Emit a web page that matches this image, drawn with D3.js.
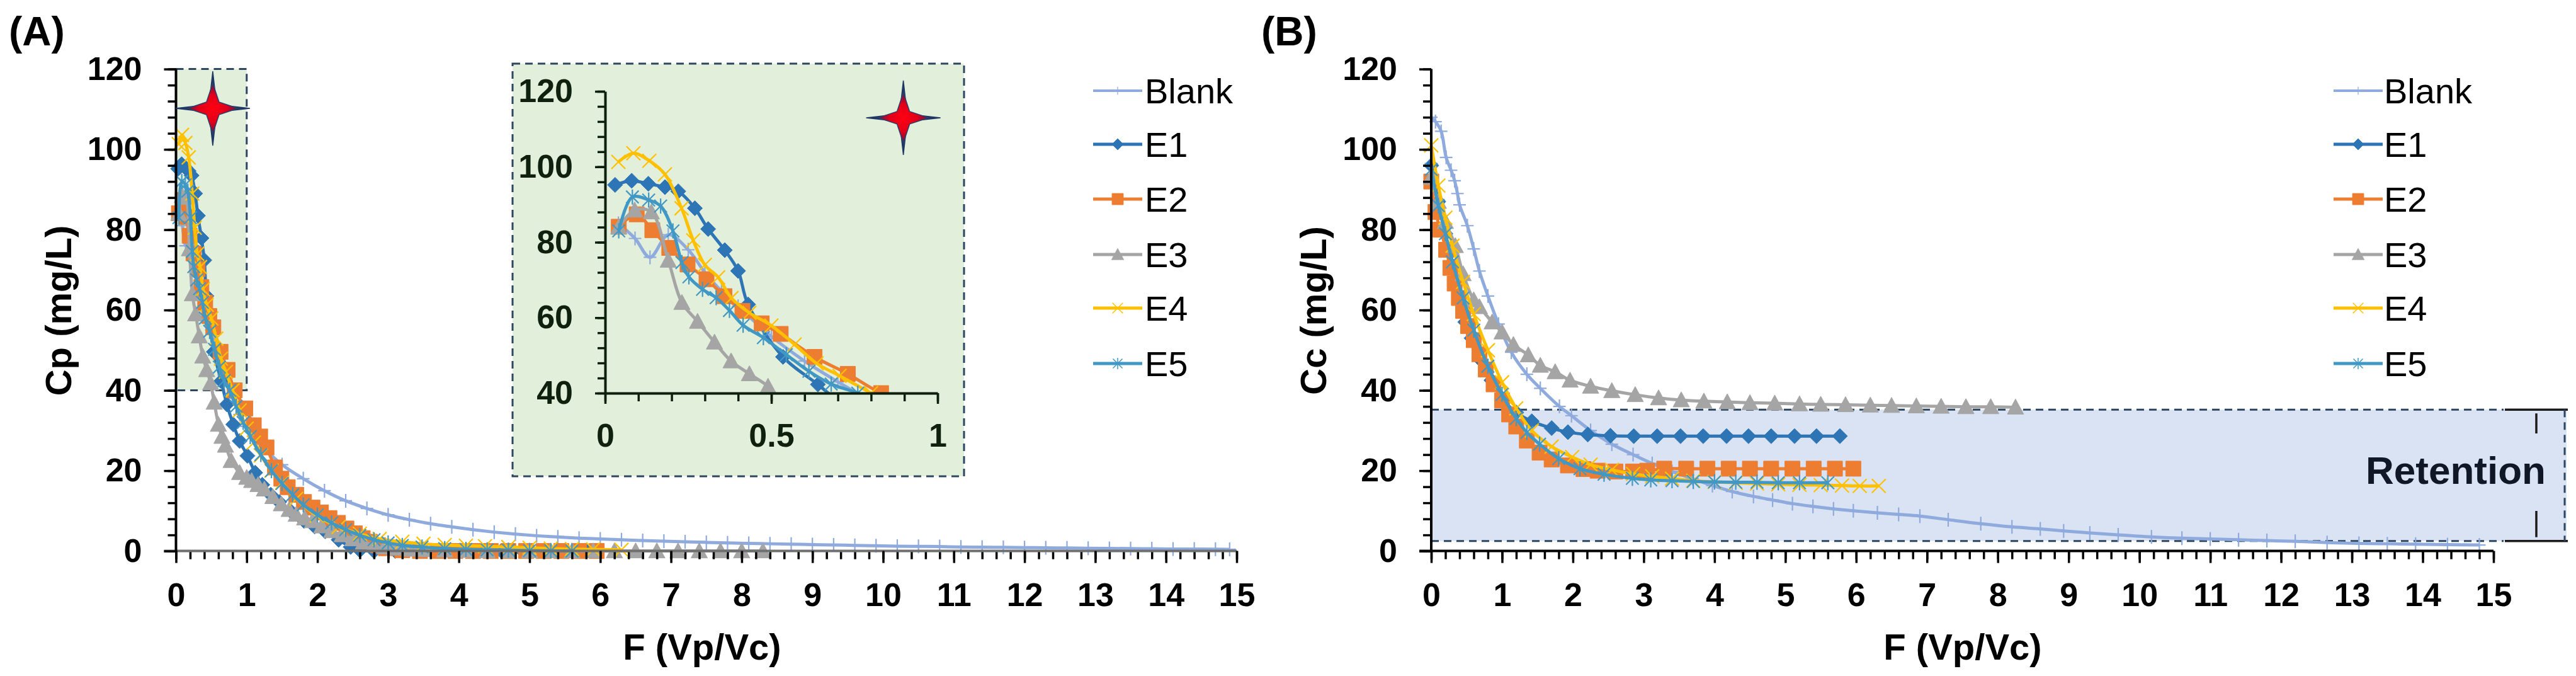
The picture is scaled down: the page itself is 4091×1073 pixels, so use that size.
<!DOCTYPE html>
<html><head><meta charset="utf-8">
<script src="https://cdn.jsdelivr.net/npm/d3@7"></script>
<style>
html,body{margin:0;padding:0;background:#fff;}
svg{display:block;font-family:"Liberation Sans",Arial,sans-serif;}
</style></head>
<body>
<svg id="chart" width="4091" height="1073"></svg>
<script>
// ---------------- DATA ----------------
const seriesNames = ["Blank","E1","E2","E3","E4","E5"];
const xTickLabels = [0,1,2,3,4,5,6,7,8,9,10,11,12,13,14,15];
const yTickLabels = [0,20,40,60,80,100,120];
const insetXTickLabels = [0,0.5,1];
const insetYTickLabels = [40,60,80,100,120];
const insetDomainX = [0,1];
const insetDomainY = [40,120];
const retentionRange = [2.5,35.2];

// Panel A : Cp (mg/L) vs F
const A_Blank = [[0.04,85],[0.09,81],[0.135,76],[0.19,82],[0.25,78],[0.3,72],[0.35,67],[0.4,63],[0.5,55],[0.6,48.5],[0.7,43],[0.8,38],[0.9,34],[1.0,31],[1.2,26.5],[1.5,21.5],[1.8,18],[2.1,15],[2.4,12.5],[2.7,10.6],[3.0,9.0],[3.3,7.8],[3.6,6.8],[3.9,6.0],[4.2,5.3],[4.5,4.7],[4.8,4.2],[5.1,3.8],[5.4,3.5],[5.7,3.2],[6.0,3.0],[6.3,2.8],[6.6,2.6],[6.9,2.45],[7.2,2.3],[7.5,2.15],[7.8,2.0],[8.1,1.9],[8.4,1.8],[8.7,1.7],[9.0,1.6],[9.3,1.5],[9.6,1.4],[9.9,1.3],[10.2,1.2],[10.5,1.15],[10.8,1.1],[11.1,1.0],[11.4,0.95],[11.7,0.9],[12.0,0.85],[12.3,0.8],[12.6,0.75],[12.9,0.7],[13.2,0.65],[13.5,0.6],[13.8,0.55],[14.1,0.5],[14.4,0.48],[14.7,0.45],[14.9,0.42]];
const A_E1 = [[0.03,95.2],[0.08,96.3],[0.13,95.5],[0.18,94.6],[0.22,93.5],[0.27,89],[0.31,83.5],[0.36,77.9],[0.40,72.4],[0.43,63.5],[0.535,49.6],[0.64,42.3],[0.72,36.5],[0.81,31.5],[0.9,27.4],[1.01,23.7],[1.12,19.5],[1.22,16.5],[1.34,14],[1.46,12.2],[1.63,9.8],[1.81,7.5],[1.96,6.1],[2.11,4.9],[2.3,2.8],[2.47,1.0],[2.6,0.2],[2.8,0],[3.1,0],[3.4,0],[3.7,0],[4.0,0],[4.3,0],[4.6,0],[4.9,0],[5.2,0],[5.5,0],[5.8,0]];
const A_E2 = [[0.041,84.1],[0.095,87.4],[0.142,83.2],[0.193,78.5],[0.248,74.1],[0.305,70.2],[0.359,65.7],[0.413,61.8],[0.471,58.5],[0.528,55.7],[0.63,49.6],[0.73,45.1],[0.83,40],[0.98,35.5],[1.10,31.3],[1.19,28.5],[1.28,25.8],[1.40,20.8],[1.49,18],[1.58,15.9],[1.7,14],[1.81,12.2],[1.93,10.8],[2.05,9.6],[2.17,8.2],[2.29,7.0],[2.41,5.6],[2.53,4.4],[2.64,3.2],[2.74,2.3],[2.86,1.4],[2.97,0.7],[3.2,0.2],[3.45,0],[3.7,0],[3.95,0],[4.2,0],[4.45,0],[4.7,0],[4.95,0],[5.2,0],[5.45,0],[5.7,0],[5.95,0]];
const A_E3 = [[0.041,84],[0.089,88.5],[0.139,88],[0.19,75.2],[0.231,64],[0.278,59],[0.329,53.5],[0.379,48.5],[0.434,45.1],[0.49,41.8],[0.54,37],[0.6,31.5],[0.65,28.5],[0.7,26.3],[0.78,22.5],[0.9,19.5],[1.0,18.3],[1.07,17.5],[1.16,16.5],[1.25,15.4],[1.37,13.5],[1.49,11.7],[1.6,10.3],[1.7,9.1],[1.82,8.2],[1.93,7.5],[2.06,6.2],[2.2,5],[2.35,4],[2.5,3],[2.65,2.2],[2.8,1.5],[2.95,1],[3.1,0.7],[3.3,0.4],[3.5,0.3],[3.8,0.2],[4.1,0.1],[4.4,0],[4.7,0],[5.0,0],[5.3,0],[5.6,0],[5.9,0],[6.2,0],[6.5,0],[6.8,0],[7.1,0],[7.4,0],[7.7,0],[8.0,0],[8.3,0]];
const A_E4 = [[0.04,101.3],[0.085,103.6],[0.133,101.6],[0.18,98],[0.23,89],[0.265,80.5],[0.3,74],[0.34,70.7],[0.38,65.2],[0.434,61.3],[0.5,57.9],[0.57,52.9],[0.636,47.9],[0.705,44.6],[0.8,40],[0.9,35],[1.0,30.5],[1.1,27],[1.2,23.8],[1.35,20],[1.5,17],[1.7,13],[1.99,8.8],[2.3,6],[2.6,4.3],[2.88,3.0],[3.2,2.3],[3.5,1.8],[3.8,1.5],[4.1,1.3],[4.37,1.2],[4.7,1.0],[5.0,0.8],[5.3,0.6],[5.6,0.5],[5.9,0.4],[6.3,0.3]];
const A_E5 = [[0.041,83],[0.082,92],[0.131,91.2],[0.167,89.6],[0.204,83],[0.231,74.6],[0.252,70.8],[0.293,67.5],[0.334,65.3],[0.374,61.9],[0.415,58],[0.476,54.7],[0.545,50.2],[0.613,45.8],[0.68,42.4],[0.76,40],[0.85,36],[0.95,32],[1.05,28.5],[1.2,24],[1.35,20],[1.5,16.8],[1.65,14],[1.8,11.5],[2.0,9],[2.2,7],[2.4,5.3],[2.6,3.9],[2.8,2.8],[3.0,2.0],[3.2,1.4],[3.48,1.0],[3.8,0.6],[4.1,0.4],[4.4,0.3],[4.7,0.2],[5.0,0.1],[5.3,0.05],[5.6,0]];

// Panel B : Cc (mg/L) vs F
const B_Blank = [[0,108],[0.06,106.9],[0.14,104.5],[0.21,98],[0.28,94.8],[0.33,92.2],[0.37,89],[0.4,86.2],[0.51,81],[0.6,75.2],[0.68,69.7],[0.8,63.5],[0.95,56.5],[1.13,49.5],[1.35,44],[1.54,40.5],[1.81,36],[1.98,33.7],[2.25,30],[2.55,26.6],[2.85,24],[3.12,21.8],[3.4,19.8],[3.69,18],[3.97,16.3],[4.25,14.8],[4.55,13.6],[4.82,12.7],[5.1,11.8],[5.39,11.1],[5.68,10.5],[5.96,10],[6.3,9.5],[6.6,9.1],[6.9,8.7],[7.3,7.8],[7.76,6.8],[8.2,6.0],[8.6,5.5],[8.93,5.0],[9.3,4.5],[9.7,4.0],[10.17,3.5],[10.6,3.2],[11.0,3.0],[11.4,2.8],[11.8,2.6],[12.2,2.4],[12.65,2.1],[13.1,1.9],[13.5,1.8],[13.9,1.7],[14.35,1.6],[14.8,1.5]];
const B_E1 = [[0,96],[0.1,87],[0.2,79],[0.3,71],[0.4,62],[0.48,57],[0.57,53],[0.7,47.5],[0.85,42.5],[1.0,38],[1.2,34.5],[1.42,32.3],[1.7,30.6],[1.93,29.6],[2.21,29],[2.53,28.7],[2.86,28.6],[3.19,28.6],[3.52,28.6],[3.84,28.6],[4.17,28.6],[4.48,28.6],[4.80,28.6],[5.13,28.6],[5.44,28.6],[5.77,28.6]];
const B_E2 = [[0,92],[0.06,84.4],[0.13,80],[0.21,75],[0.27,70.5],[0.33,66.6],[0.39,63],[0.45,59.8],[0.52,56],[0.6,52.5],[0.68,49],[0.77,45.2],[0.88,41.5],[1.0,37.5],[1.1,34],[1.2,31],[1.35,27.5],[1.53,24.5],[1.7,22.8],[1.93,21.3],[2.15,20.4],[2.35,20],[2.6,19.8],[2.85,19.8],[3.05,20.0],[3.29,20.5],[3.6,20.5],[3.9,20.5],[4.2,20.5],[4.5,20.5],[4.8,20.5],[5.1,20.5],[5.4,20.5],[5.7,20.5],[5.96,20.5]];
const B_E3 = [[0,93],[0.1,87],[0.2,82],[0.34,76],[0.45,69],[0.6,62.5],[0.68,60.8],[0.86,57],[1.0,54.5],[1.16,51.4],[1.37,48.8],[1.54,46.2],[1.75,44.6],[1.96,42.5],[2.25,41],[2.55,39.9],[2.88,38.9],[3.21,38.1],[3.53,37.6],[3.85,37.3],[4.18,37.1],[4.5,36.9],[4.85,36.8],[5.2,36.6],[5.5,36.5],[5.85,36.4],[6.2,36.3],[6.5,36.2],[6.85,36.1],[7.2,36.0],[7.55,35.9],[7.9,35.9],[8.25,35.8]];
const B_E4 = [[0,101],[0.1,91],[0.2,83],[0.3,76],[0.45,67],[0.6,59],[0.8,50],[1.0,42],[1.2,35.5],[1.42,30],[1.7,26],[1.99,23.4],[2.25,21.5],[2.55,20.2],[2.85,19.2],[3.12,18.6],[3.4,18],[3.7,17.5],[4.0,17.2],[4.3,17],[4.6,16.8],[4.9,16.6],[5.2,16.5],[5.5,16.4],[5.8,16.3],[6.05,16.2],[6.32,16.2]];
const B_E5 = [[0,95],[0.1,86],[0.2,79],[0.3,72],[0.45,63],[0.6,55],[0.8,46],[1.0,39],[1.2,33],[1.35,29.5],[1.53,26.6],[1.8,23],[2.1,20.5],[2.44,19.1],[2.84,18.1],[3.1,17.7],[3.4,17.5],[3.7,17.3],[4.0,17.2],[4.3,17.1],[4.6,17.1],[4.9,17.0],[5.2,17.0],[5.6,17.0]];

// ---------------- STYLE ----------------
const colors = {Blank:"#8faadc",E1:"#2e75b6",E2:"#ed7d31",E3:"#a5a5a5",E4:"#ffc000",E5:"#4198c4"};
const markers = {Blank:"plus",E1:"diamond",E2:"square",E3:"triangle",E4:"x",E5:"star"};
const FONT = '"Liberation Sans", Arial, sans-serif';

const svg = d3.select("#chart");
const defs = svg.append("defs");
const grad = defs.append("radialGradient").attr("id","starGrad");
grad.append("stop").attr("offset","0%").attr("stop-color","#ff0010");
grad.append("stop").attr("offset","55%").attr("stop-color","#e0001a");
grad.append("stop").attr("offset","85%").attr("stop-color","#8a1038");
grad.append("stop").attr("offset","100%").attr("stop-color","#1f3864");

function markerPath(t){
  switch(t){
    case "diamond": return "M0,-12L12,0L0,12L-12,0Z";
    case "square": return "M-12,-12H12V12H-12Z";
    case "triangle": return "M0,-13L13,11H-13Z";
    case "x": return "M-11,-11L11,11M-11,11L11,-11";
    case "star": return "M-10,-10L10,10M-10,10L10,-10M0,-12V12";
    case "plus": return "M-10,0H10M0,-11V11";
  }
}
function isStroke(t){return t==="x"||t==="star"||t==="plus";}

function drawSeries(g, name, data, x, y){
  const c = colors[name];
  g.append("path").datum(data)
    .attr("d", d3.line().x(d=>x(d[0])).y(d=>y(d[1])).curve(d3.curveCatmullRom.alpha(0.5)))
    .attr("fill","none").attr("stroke",c).attr("stroke-width",5).attr("stroke-linejoin","round");
  const t = markers[name];
  g.append("g").selectAll("path").data(data).join("path")
    .attr("transform",d=>`translate(${x(d[0])},${y(d[1])})`)
    .attr("d",markerPath(t))
    .attr("fill",isStroke(t)?"none":c)
    .attr("stroke",c).attr("stroke-width",isStroke(t)?2.2:1);
}

function starPath(R,r){
  return `M0,${-R}L${r},${-r}L${R},0L${r},${r}L0,${R}L${-r},${r}L${-R},0L${-r},${-r}Z`;
}
function drawStar(cx,cy){
  const g = svg.append("g").attr("transform",`translate(${cx},${cy})`);
  g.append("path").attr("d",starPath(59,6)).attr("fill","#1f3864").attr("stroke","#1f3864").attr("stroke-width",1.5);
  g.append("path").attr("d",starPath(40,10)).attr("fill","url(#starGrad)").attr("stroke","#2a3f6a").attr("stroke-width",1.5);
}

function styleAxis(g, color){
  g.selectAll(".domain").attr("stroke",color).attr("stroke-width",4);
  g.selectAll(".tick line").attr("stroke","#000").attr("stroke-width",3.5);
  g.selectAll("text").attr("font-family",FONT).attr("font-weight","bold").attr("font-size",52).attr("fill","#000");
}

function drawAxes(x, y, xTitle, yTitle, yTitleX, xTitleX, xDomainColor){
  const x0 = x.range()[0], y0 = y.range()[0];
  const gxm = svg.append("g").attr("transform",`translate(0,${y0})`)
    .call(d3.axisBottom(x).tickValues(d3.range(0,15.001,0.2)).tickSize(13).tickFormat(""));
  gxm.select(".domain").remove();
  const gym = svg.append("g").attr("transform",`translate(${x0},0)`)
    .call(d3.axisLeft(y).tickValues(d3.range(0,120.001,4)).tickSize(13).tickFormat(""));
  gym.select(".domain").remove();
  styleAxis(gxm,"#000"); styleAxis(gym,"#000");
  const gx = svg.append("g").attr("transform",`translate(0,${y0})`)
    .call(d3.axisBottom(x).tickValues(xTickLabels).tickSize(19).tickPadding(31).tickSizeOuter(0).tickFormat(d3.format("d")));
  styleAxis(gx, xDomainColor);
  gx.select(".domain").attr("d",`M${x0-19},0H${x.range()[1]}`);
  const gy = svg.append("g").attr("transform",`translate(${x0},0)`)
    .call(d3.axisLeft(y).tickValues(yTickLabels).tickSize(19).tickPadding(35).tickSizeOuter(0));
  styleAxis(gy,"#000");
  gy.select(".domain").attr("d",`M0,${y0+2}V${y.range()[1]}`);
  svg.append("text").attr("x",xTitleX).attr("y",1047).attr("text-anchor","middle")
    .attr("font-family",FONT).attr("font-weight","bold").attr("font-size",58).text(xTitle);
  svg.append("text").attr("transform",`translate(${yTitleX},493) rotate(-90)`).attr("text-anchor","middle")
    .attr("dy","0.36em").attr("font-family",FONT).attr("font-weight","bold").attr("font-size",58).text(yTitle);
}

function drawLegend(lx, tx){
  const rows = [144,229,316,404,489,577];
  seriesNames.forEach((n,i)=>{
    const yy = rows[i];
    const c = colors[n];
    svg.append("line").attr("x1",lx).attr("x2",lx+78).attr("y1",yy).attr("y2",yy)
      .attr("stroke",c).attr("stroke-width",n==="Blank"?4:5);
    const t = markers[n];
    svg.append("path").attr("d",markerPath(t)).attr("transform",`translate(${lx+39},${yy}) scale(${n==="Blank"?0.6:0.75})`)
      .attr("fill",isStroke(t)?"none":c).attr("stroke",c).attr("stroke-width",isStroke(t)?2:1);
    svg.append("text").attr("x",tx).attr("y",yy).attr("dy","0.36em")
      .attr("font-family",FONT).attr("font-size",56).attr("fill","#000").text(n);
  });
}

// ---------------- PANEL A ----------------
const xA = d3.scaleLinear().domain([0,15]).range([279.5,1964]);
const yA = d3.scaleLinear().domain([0,120]).range([874.6,109.6]);

svg.append("rect").attr("x",xA(insetDomainX[0])).attr("y",yA(insetDomainY[1]))
  .attr("width",xA(insetDomainX[1])-xA(insetDomainX[0])).attr("height",yA(insetDomainY[0])-yA(insetDomainY[1]))
  .attr("fill","#e2efda").attr("stroke","#2d4660").attr("stroke-width",3).attr("stroke-dasharray","12,8");

const gA = svg.append("g");
const seriesA = {Blank:A_Blank,E1:A_E1,E2:A_E2,E3:A_E3,E4:A_E4,E5:A_E5};
seriesNames.forEach(n=>drawSeries(gA,n,seriesA[n],xA,yA));
drawAxes(xA,yA,"F (Vp/Vc)","Cp (mg/L)",92,1115,"#6f6f6f");
drawStar(xA(0.52),yA(110.2));

// inset
const ins = {x0:814,x1:1531,y0:101,y1:756};
svg.append("rect").attr("x",ins.x0).attr("y",ins.y0).attr("width",ins.x1-ins.x0).attr("height",ins.y1-ins.y0)
  .attr("fill","#e2efda").attr("stroke","#2d4660").attr("stroke-width",3).attr("stroke-dasharray","12,8");
const xI = d3.scaleLinear().domain(insetDomainX).range([961,1489]);
const yI = d3.scaleLinear().domain(insetDomainY).range([624,145]);
defs.append("clipPath").attr("id","insetClip").append("rect")
  .attr("x",xI(0)).attr("y",yI(120)-15).attr("width",xI(1)-xI(0)+10).attr("height",yI(40)-yI(120)+15);
const gI = svg.append("g").attr("clip-path","url(#insetClip)");
seriesNames.forEach(n=>drawSeries(gI,n,seriesA[n],xI,yI));
{
  const gxm = svg.append("g").attr("transform",`translate(0,${yI(40)})`)
    .call(d3.axisBottom(xI).tickValues(d3.range(0,1.0001,0.1)).tickSize(13).tickFormat(""));
  gxm.select(".domain").remove();
  const gym = svg.append("g").attr("transform",`translate(${xI(0)},0)`)
    .call(d3.axisLeft(yI).tickValues(d3.range(40,120.001,4)).tickSize(12).tickFormat(""));
  gym.select(".domain").remove();
  [gxm,gym].forEach(g=>{g.selectAll(".tick line").attr("stroke","#0c1f0c").attr("stroke-width",3.5);});
  const gx = svg.append("g").attr("transform",`translate(0,${yI(40)})`)
    .call(d3.axisBottom(xI).tickValues(insetXTickLabels).tickSize(17).tickPadding(31).tickSizeOuter(0).tickFormat(d=>d===0.5?"0.5":d3.format("d")(d)));
  const gy = svg.append("g").attr("transform",`translate(${xI(0)},0)`)
    .call(d3.axisLeft(yI).tickValues(insetYTickLabels).tickSize(16).tickPadding(35).tickSizeOuter(0));
  [gx,gy].forEach(g=>{
    g.selectAll(".domain").attr("stroke","#0c1f0c").attr("stroke-width",4);
    g.selectAll(".tick line").attr("stroke","#0c1f0c").attr("stroke-width",3.5);
    g.selectAll("text").attr("font-family",FONT).attr("font-weight","bold").attr("font-size",52).attr("fill","#0f200f");
  });
}
drawStar(xI(0.897),yI(113));
drawLegend(1736,1818);

svg.append("text").attr("x",14).attr("y",72).attr("font-family",FONT).attr("font-weight","bold").attr("font-size",64).text("(A)");

// ---------------- PANEL B ----------------
const xB = d3.scaleLinear().domain([0,15]).range([2273,3960]);
const yB = d3.scaleLinear().domain([0,120]).range([874.6,109.6]);

const retTop = yB(retentionRange[1]), retBot = yB(retentionRange[0]);
svg.append("rect").attr("x",xB(0)).attr("y",retTop).attr("width",4076-xB(0)).attr("height",retBot-retTop).attr("fill","#dae3f3");
[retTop,retBot].forEach(yy=>{
  svg.append("line").attr("x1",xB(0)).attr("x2",3976).attr("y1",yy).attr("y2",yy)
    .attr("stroke","#2d4660").attr("stroke-width",3).attr("stroke-dasharray","12,8");
  svg.append("line").attr("x1",3978).attr("x2",4078).attr("y1",yy).attr("y2",yy)
    .attr("stroke","#1a1a1a").attr("stroke-width",3.5);
});
svg.append("line").attr("x1",4073).attr("x2",4073).attr("y1",retTop).attr("y2",retBot)
  .attr("stroke","#2d4660").attr("stroke-width",3).attr("stroke-dasharray","12,8");
svg.append("line").attr("x1",4028).attr("x2",4028).attr("y1",retTop+6).attr("y2",688).attr("stroke","#1a1a1a").attr("stroke-width",3.5);
svg.append("line").attr("x1",4028).attr("x2",4028).attr("y1",811).attr("y2",retBot-6).attr("stroke","#1a1a1a").attr("stroke-width",3.5);
svg.append("text").attr("x",3900).attr("y",746).attr("dy","0.36em").attr("text-anchor","middle")
  .attr("font-family",FONT).attr("font-weight","bold").attr("font-size",62).attr("fill","#101828").text("Retention");

const gB = svg.append("g");
const seriesB = {Blank:B_Blank,E1:B_E1,E2:B_E2,E3:B_E3,E4:B_E4,E5:B_E5};
seriesNames.forEach(n=>drawSeries(gB,n,seriesB[n],xB,yB));
drawAxes(xB,yB,"F (Vp/Vc)","Cc (mg/L)",2085,3117,"#000");
drawLegend(3706,3786);

svg.append("text").attr("x",2003).attr("y",72).attr("font-family",FONT).attr("font-weight","bold").attr("font-size",64).text("(B)");
</script>
</body></html>
